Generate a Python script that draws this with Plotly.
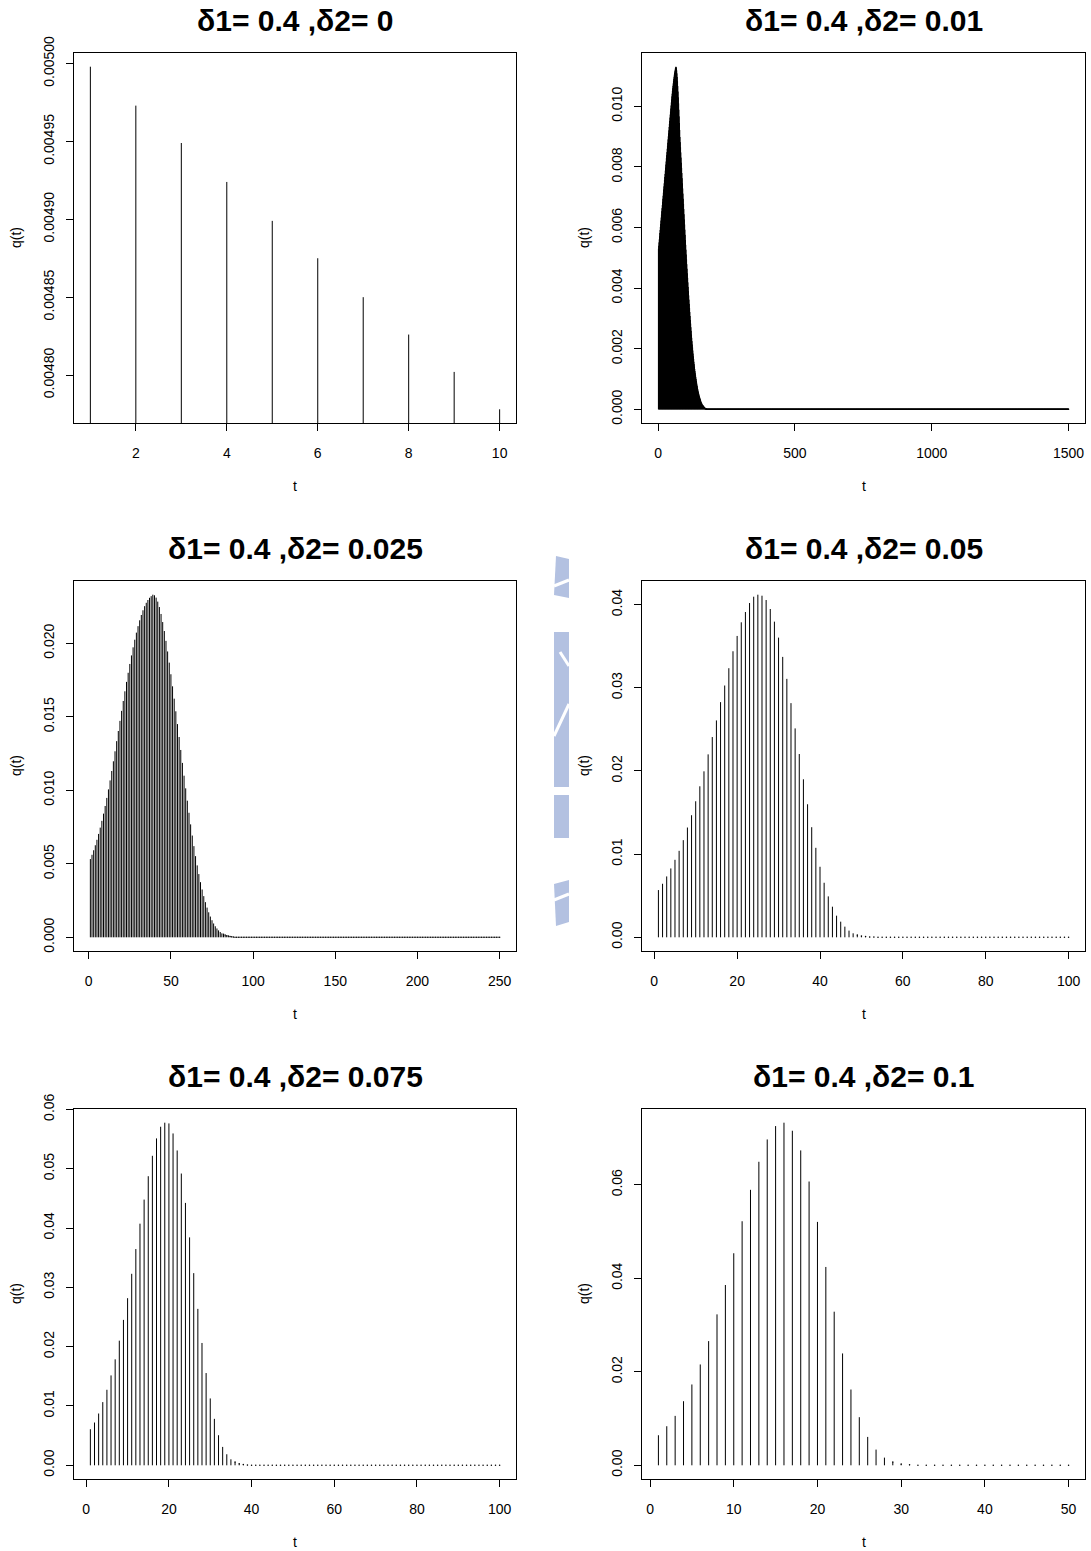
import plotly.graph_objects as go

W, H = 1091, 1551

delta1 = "0.4"
delta2_labels = ["0", "0.01", "0.025", "0.05", "0.075", "0.1"]

# q(t) values (t = 1, 2, ...)
q_d2_0 = [0.004998, 0.004973, 0.004949, 0.004924, 0.004899,
          0.004875, 0.004850, 0.004826, 0.004802, 0.004778]

q_d2_001 = [
    0.00530, 0.00540, 0.00551, 0.00561, 0.00571, 0.00582, 0.00592, 0.00602, 0.00612, 0.00623,
    0.00633, 0.00643, 0.00654, 0.00664, 0.00674, 0.00685, 0.00695, 0.00705, 0.00715, 0.00726,
    0.00736, 0.00746, 0.00757, 0.00767, 0.00777, 0.00788, 0.00798, 0.00808, 0.00818, 0.00829,
    0.00839, 0.00849, 0.00860, 0.00870, 0.00880, 0.00891, 0.00901, 0.00911, 0.00921, 0.00932,
    0.00942, 0.00952, 0.00963, 0.00973, 0.00983, 0.00993, 0.01003, 0.01013, 0.01023, 0.01033,
    0.01042, 0.01051, 0.01060, 0.01068, 0.01076, 0.01084, 0.01091, 0.01098, 0.01105, 0.01111,
    0.01116, 0.01121, 0.01126, 0.01129, 0.01131, 0.01130, 0.01126, 0.01119, 0.01109, 0.01097,
    0.01083, 0.01067, 0.01049, 0.01030, 0.01010, 0.00989, 0.00967, 0.00945, 0.00922, 0.00899,
    0.00882, 0.00865, 0.00848, 0.00831, 0.00814, 0.00797, 0.00780, 0.00763, 0.00746, 0.00729,
    0.00712, 0.00695, 0.00678, 0.00661, 0.00644, 0.00627, 0.00610, 0.00593, 0.00576, 0.00559,
    0.00543, 0.00527, 0.00511, 0.00495, 0.00479, 0.00464, 0.00449, 0.00434, 0.00419, 0.00404,
    0.00390, 0.00376, 0.00362, 0.00348, 0.00334, 0.00321, 0.00308, 0.00295, 0.00283, 0.00271,
    0.00259, 0.00247, 0.00236, 0.00225, 0.00214, 0.00204, 0.00194, 0.00184, 0.00175, 0.00166,
    0.00157, 0.00149, 0.00141, 0.00133, 0.00126, 0.00119, 0.00112, 0.00106, 0.00100, 0.00094,
    0.00088, 0.00082, 0.00077, 0.00072, 0.00067, 0.00062, 0.00058, 0.00054, 0.00050, 0.00046,
    0.00043, 0.00040, 0.00037, 0.00034, 0.00031, 0.00028, 0.00025, 0.00023, 0.00021, 0.00019,
    0.00017, 0.00015, 0.00013, 0.00011, 0.00010, 0.00008, 0.00007, 0.00006, 0.00005, 0.00004,
    0.00003, 0.00003, 0.00002, 0.00002, 0.00001, 0.00001, 0.00001, 0.0, 0.0, 0.0,
] + [0.0] * 1320

q_d2_0025 = [
    0.00532, 0.00561, 0.00592, 0.00626, 0.00663, 0.00703, 0.00746, 0.00792, 0.00841, 0.00893,
    0.00948, 0.01006, 0.01067, 0.01131, 0.01197, 0.01265, 0.01334, 0.01403, 0.01472, 0.01540,
    0.01607, 0.01673, 0.01737, 0.01799, 0.01859, 0.01917, 0.01972, 0.02024, 0.02072, 0.02116,
    0.02156, 0.02192, 0.02224, 0.02252, 0.02275, 0.02294, 0.02309, 0.02320, 0.02330, 0.02326,
    0.02310, 0.02283, 0.02246, 0.02199, 0.02144, 0.02083, 0.02016, 0.01944, 0.01868, 0.01789,
    0.01707, 0.01623, 0.01537, 0.01450, 0.01362, 0.01274, 0.01186, 0.01099, 0.01013, 0.00929,
    0.00847, 0.00768, 0.00692, 0.00620, 0.00552, 0.00489, 0.00430, 0.00375, 0.00325, 0.00280,
    0.00239, 0.00202, 0.00170, 0.00141, 0.00116, 0.00094, 0.00075, 0.00060, 0.00047, 0.00036,
    0.00027, 0.00020, 0.00015, 0.00011, 0.00008, 0.00005, 0.00003, 0.00002, 0.00001, 0.0,
] + [0.0] * 160

q_d2_005 = [
    0.00568, 0.00644, 0.00732, 0.00828, 0.00932, 0.01040, 0.01168, 0.01320, 0.01468, 0.01636,
    0.01816, 0.01996, 0.02200, 0.02408, 0.02608, 0.02828, 0.03028, 0.03236, 0.03440, 0.03624,
    0.03788, 0.03912, 0.04020, 0.04096, 0.04120, 0.04108, 0.04056, 0.03948, 0.03796, 0.03604,
    0.03372, 0.03108, 0.02816, 0.02512, 0.02204, 0.01900, 0.01600, 0.01324, 0.01076, 0.00848,
    0.00656, 0.00492, 0.00368, 0.00260, 0.00188, 0.00128, 0.00080, 0.00048, 0.00028, 0.00016,
    0.00009, 0.00005, 0.00003, 0.00002, 0.00001,
] + [0.0] * 45

q_d2_0075 = [
    0.00608, 0.00721, 0.00873, 0.01065, 0.01273, 0.01515, 0.01786, 0.02101, 0.02451, 0.02817,
    0.03228, 0.03645, 0.04073, 0.04479, 0.04873, 0.05217, 0.05510, 0.05707, 0.05775, 0.05763,
    0.05594, 0.05307, 0.04918, 0.04423, 0.03842, 0.03239, 0.02637, 0.02062, 0.01555, 0.01127,
    0.00783, 0.00507, 0.00310, 0.00186, 0.00101, 0.00056, 0.00028, 0.00012, 0.00005, 0.00002,
    0.00001,
] + [0.0] * 59

q_d2_01 = [
    0.00643, 0.00836, 0.01057, 0.01371, 0.01729, 0.02157, 0.02657, 0.03229, 0.03857, 0.04536,
    0.05221, 0.05893, 0.06493, 0.06971, 0.07257, 0.07329, 0.07157, 0.06736, 0.06071, 0.05207,
    0.04243, 0.03286, 0.02393, 0.01621, 0.01029, 0.00607, 0.00336, 0.00164, 0.00071, 0.00028,
    0.00010, 0.00003, 0.00001,
] + [0.0] * 17

series = [q_d2_0, q_d2_001, q_d2_0025, q_d2_005, q_d2_0075, q_d2_01]
x_dticks = [2, 500, 50, 20, 20, 10]
y_dticks = [0.00005, 0.002, 0.005, 0.01, 0.01, 0.02]
y_formats = [".5f", ".3f", ".3f", ".2f", ".2f", ".2f"]

# layout (pixels)
col_x = [(74, 516), (642, 1085)]
row_y = [(53, 423), (581, 951), (1109, 1479)]
FONT = "Liberation Sans, Arial, sans-serif"

fig = go.Figure()
layout = dict(
    width=W, height=H, margin=dict(l=0, r=0, t=0, b=0, pad=0),
    autosize=False,
    paper_bgcolor="white", plot_bgcolor="white",
    showlegend=False, hovermode=False,
    annotations=[], shapes=[],
)

for i, q in enumerate(series):
    r, c = divmod(i, 2)
    x0, x1 = col_x[c]
    y0, y1 = row_y[r]
    n = len(q)
    t = list(range(1, n + 1))
    xs, ys = [], []
    for ti, v in zip(t, q):
        xs += [ti, ti, None]
        ys += [0, v, None]
    sfx = "" if i == 0 else str(i + 1)
    fig.add_trace(go.Scatter(x=xs, y=ys, mode="lines",
                             line=dict(color="black", width=1),
                             xaxis="x" + sfx, yaxis="y" + sfx, hoverinfo="skip"))
    # round line-end dots that stay visible where a spike has (almost) no height
    qmax = max(q)
    dot_t = [ti for ti, v in zip(t, q) if v < 0.01 * qmax]
    dot_q = [v for v in q if v < 0.01 * qmax]
    if dot_t:
        fig.add_trace(go.Scatter(x=dot_t, y=dot_q, mode="markers",
                                 marker=dict(color="black", size=1.5, line=dict(width=0)),
                                 xaxis="x" + sfx, yaxis="y" + sfx, hoverinfo="skip"))
    # R-style 4% range extension
    xpad = 0.04 * (n - 1)
    ylo, yhi = min(q), max(q)
    ypad = 0.04 * (yhi - ylo)
    common = dict(showline=True, mirror=True, linecolor="black", linewidth=1,
                  ticks="outside", ticklen=7, tickcolor="black", tickwidth=1,
                  showgrid=False, zeroline=False, automargin=False,
                  tickfont=dict(family=FONT, size=14, color="black"),
                  tickmode="linear", tick0=0)
    layout["xaxis" + sfx] = dict(common, domain=[x0 / W, x1 / W],
                                 anchor="y" + sfx, range=[1 - xpad, n + xpad],
                                 dtick=x_dticks[i], ticklabelstandoff=10)
    layout["yaxis" + sfx] = dict(common, domain=[1 - y1 / H, 1 - y0 / H],
                                 anchor="x" + sfx, range=[ylo - ypad, yhi + ypad],
                                 dtick=y_dticks[i], tickformat=y_formats[i],
                                 tickangle=-90, ticklabelstandoff=6)
    cx = (x0 + x1) / 2
    cy = (y0 + y1) / 2
    layout["annotations"].append(dict(
        text=f"δ1= {delta1} ,δ2= {delta2_labels[i]}", x=cx / W, y=1 - (y0 - 33) / H,
        xref="paper", yref="paper", xanchor="center", yanchor="middle", showarrow=False,
        font=dict(family=FONT, size=30, color="black", weight="bold")))
    layout["annotations"].append(dict(
        text="t", x=cx / W, y=1 - (y1 + 63) / H,
        xref="paper", yref="paper", xanchor="center", yanchor="middle", showarrow=False,
        font=dict(family=FONT, size=14, color="black")))
    layout["annotations"].append(dict(
        text="q(t)", x=(x0 - 58) / W, y=1 - cy / H, textangle=-90,
        xref="paper", yref="paper", xanchor="center", yanchor="middle", showarrow=False,
        font=dict(family=FONT, size=14, color="black")))

# faint watermark fragment between the columns
wm = "#b3c1e1"


def px(xp, yp):
    return xp / W, 1 - yp / H


for (a, b, c2, d) in [(554, 632, 569, 787), (554, 795, 569, 838)]:
    layout["shapes"].append(dict(type="rect", xref="paper", yref="paper",
                                 x0=a / W, x1=c2 / W, y0=1 - d / H, y1=1 - b / H,
                                 fillcolor=wm, line=dict(width=0), layer="below"))
# slanted top and bottom pieces
for poly in [[(556, 556), (569, 559), (569, 598), (554, 595)],
             [(554, 884), (569, 880), (569, 922), (556, 926)]]:
    path = "M " + " L ".join(f"{px(x, y)[0]},{px(x, y)[1]}" for x, y in poly) + " Z"
    layout["shapes"].append(dict(type="path", xref="paper", yref="paper", path=path,
                                 fillcolor=wm, line=dict(width=0), layer="below"))
# white cut-outs inside the watermark
for (xa, ya, xb, yb) in [(554, 586, 569, 580), (554, 736, 569, 704),
                         (554, 900, 569, 894), (560, 652, 569, 666)]:
    xa_, ya_ = px(xa, ya)
    xb_, yb_ = px(xb, yb)
    layout["shapes"].append(dict(type="line", xref="paper", yref="paper",
                                 x0=xa_, y0=ya_, x1=xb_, y1=yb_,
                                 line=dict(color="white", width=3), layer="below"))

fig.update_layout(**layout)
fig.write_html("out.html")
